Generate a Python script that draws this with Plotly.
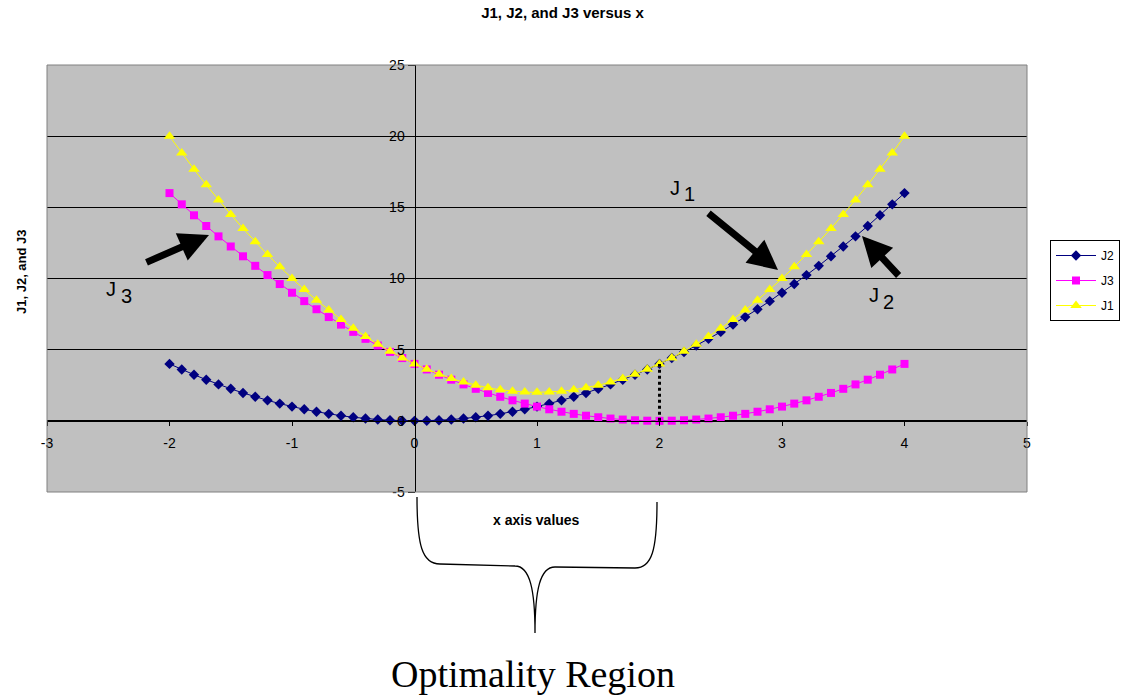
import plotly.graph_objects as go

x_vals = [-2.0, -1.9, -1.8, -1.7, -1.6, -1.5, -1.4, -1.3, -1.2, -1.1,
          -1.0, -0.9, -0.8, -0.7, -0.6, -0.5, -0.4, -0.3, -0.2, -0.1,
          0.0, 0.1, 0.2, 0.3, 0.4, 0.5, 0.6, 0.7, 0.8, 0.9,
          1.0, 1.1, 1.2, 1.3, 1.4, 1.5, 1.6, 1.7, 1.8, 1.9,
          2.0, 2.1, 2.2, 2.3, 2.4, 2.5, 2.6, 2.7, 2.8, 2.9,
          3.0, 3.1, 3.2, 3.3, 3.4, 3.5, 3.6, 3.7, 3.8, 3.9, 4.0]

j2_vals = [4, 3.61, 3.24, 2.89, 2.56, 2.25, 1.96, 1.69, 1.44, 1.21,
           1, 0.81, 0.64, 0.49, 0.36, 0.25, 0.16, 0.09, 0.04, 0.01,
           0, 0.01, 0.04, 0.09, 0.16, 0.25, 0.36, 0.49, 0.64, 0.81,
           1, 1.21, 1.44, 1.69, 1.96, 2.25, 2.56, 2.89, 3.24, 3.61,
           4, 4.41, 4.84, 5.29, 5.76, 6.25, 6.76, 7.29, 7.84, 8.41,
           9, 9.61, 10.24, 10.89, 11.56, 12.25, 12.96, 13.69, 14.44, 15.21, 16]

j3_vals = [16, 15.21, 14.44, 13.69, 12.96, 12.25, 11.56, 10.89, 10.24, 9.61,
           9, 8.41, 7.84, 7.29, 6.76, 6.25, 5.76, 5.29, 4.84, 4.41,
           4, 3.61, 3.24, 2.89, 2.56, 2.25, 1.96, 1.69, 1.44, 1.21,
           1, 0.81, 0.64, 0.49, 0.36, 0.25, 0.16, 0.09, 0.04, 0.01,
           0, 0.01, 0.04, 0.09, 0.16, 0.25, 0.36, 0.49, 0.64, 0.81,
           1, 1.21, 1.44, 1.69, 1.96, 2.25, 2.56, 2.89, 3.24, 3.61, 4]

j1_vals = [20, 18.82, 17.68, 16.58, 15.52, 14.5, 13.52, 12.58, 11.68, 10.82,
           10, 9.22, 8.48, 7.78, 7.12, 6.5, 5.92, 5.38, 4.88, 4.42,
           4, 3.62, 3.28, 2.98, 2.72, 2.5, 2.32, 2.18, 2.08, 2.02,
           2, 2.02, 2.08, 2.18, 2.32, 2.5, 2.72, 2.98, 3.28, 3.62,
           4, 4.42, 4.88, 5.38, 5.92, 6.5, 7.12, 7.78, 8.48, 9.22,
           10, 10.82, 11.68, 12.58, 13.52, 14.5, 15.52, 16.58, 17.68, 18.82, 20]

x_tick_vals = [-3, -2, -1, 0, 1, 2, 3, 4, 5]
x_tick_text = ["-3", "-2", "-1", "0", "1", "2", "3", "4", "5"]
y_tick_vals = [-5, 0, 5, 10, 15, 20, 25]
y_tick_text = ["-5", "0", "5", "10", "15", "20", "25"]

W, H = 1125, 695
ML, MR, MT, MB = 47, 98, 65, 203
PW, PH = W - ML - MR, H - MT - MB
X_RANGE = [-3, 5]
Y_RANGE = [-5, 25]


def px(xp):
    return (xp - ML) / PW


def py(yp):
    return (H - MB - yp) / PH


fig = go.Figure()
fig.add_trace(go.Scatter(x=x_vals, y=j2_vals, name="J2", mode="lines+markers",
                         legendgroup="g2",
                         line=dict(color="#000080", width=1),
                         marker=dict(symbol="diamond", size=8, color="#000080")))
fig.add_trace(go.Scatter(x=x_vals, y=j3_vals, name="J3", mode="lines+markers",
                         legendgroup="g3",
                         line=dict(color="#FF00FF", width=1),
                         marker=dict(symbol="square", size=8, color="#FF00FF")))
fig.add_trace(go.Scatter(x=x_vals, y=j1_vals, name="J1", mode="lines+markers",
                         legendgroup="g1",
                         line=dict(color="#FFFF00", width=1),
                         marker=dict(symbol="triangle-up", size=10, color="#FFFF00")))

x_axis_pos = (0 - Y_RANGE[0]) / (Y_RANGE[1] - Y_RANGE[0])
y_axis_pos = (0 - X_RANGE[0]) / (X_RANGE[1] - X_RANGE[0])

font_tick = dict(family="Liberation Sans, Arial", size=14, color="black")

fig.update_layout(
    width=W, height=H,
    margin=dict(l=ML, r=MR, t=MT, b=MB, pad=0, autoexpand=False),
    paper_bgcolor="white",
    plot_bgcolor="#C0C0C0",
    title=dict(text="<b>J1, J2, and J3 versus x</b>", x=0.5, xref="container",
               xanchor="center", y=1 - 13 / H, yanchor="middle", yref="container",
               font=dict(family="Liberation Sans, Arial", size=15, color="black")),
    xaxis=dict(range=X_RANGE, tickvals=x_tick_vals, ticktext=x_tick_text,
               showgrid=False, zeroline=False,
               anchor="free", position=x_axis_pos, showline=True, linecolor="black",
               linewidth=1, ticks="outside", ticklen=4, tickcolor="black",
               ticklabelstandoff=5, tickfont=font_tick),
    yaxis=dict(range=Y_RANGE, tickvals=y_tick_vals, ticktext=y_tick_text,
               showgrid=True, gridcolor="black",
               gridwidth=1, zeroline=False, anchor="free", position=y_axis_pos,
               showline=True, linecolor="black", linewidth=1, ticks="outside",
               ticklen=7, tickcolor="black", tickfont=font_tick),
    legend=dict(x=px(1050), y=py(240), xanchor="left", yanchor="top",
                bordercolor="black", borderwidth=1, bgcolor="white",
                font=dict(family="Liberation Sans, Arial", size=12, color="black"),
                tracegroupgap=6, itemwidth=40),
    showlegend=True,
)

# plot area border
fig.add_shape(type="rect", xref="paper", yref="paper", x0=0, y0=0, x1=1, y1=1,
              line=dict(color="#808080", width=1), layer="above")

# dotted line at x = 2
fig.add_shape(type="line", xref="x", yref="y", x0=2, x1=2, y0=0, y1=4,
              line=dict(color="black", width=3, dash="dot"), layer="above")

# brace under the optimality region
pts = [(417, 497), (417, 545), (422, 564), (440, 564), (515, 566),
       (530, 566), (535, 590), (535, 633), (535, 590), (540, 567), (555, 567),
       (635, 568), (652, 568), (657, 550), (657, 502)]
P = [f"{px(a):.5f},{py(b):.5f}" for a, b in pts]
path = (f"M {P[0]} C {P[1]} {P[2]} {P[3]} L {P[4]} C {P[5]} {P[6]} {P[7]} "
        f"C {P[8]} {P[9]} {P[10]} L {P[11]} C {P[12]} {P[13]} {P[14]}")
fig.add_shape(type="path", xref="paper", yref="paper", path=path,
              line=dict(color="black", width=1.3))


def label(text, xp, yp, font, angle=0):
    fig.add_annotation(text=text, xref="paper", yref="paper", x=px(xp), y=py(yp),
                       xanchor="center", yanchor="middle", textangle=angle,
                       showarrow=False, font=font)


ann_font = dict(family="Liberation Sans, Arial", size=14, color="black")
label("<b>x axis values</b>", 536, 520, ann_font)
label("<b>J1, J2, and J3</b>", 21, 272, dict(family="Liberation Sans, Arial", size=13,
                                            color="black"), angle=-90)
label("Optimality Region", 533, 674,
      dict(family="Liberation Serif, Times New Roman", size=38, color="black"))

lab_font = dict(family="Liberation Sans, Arial", size=20, color="black")
for main, sub, (a, b), (c, d) in [("J", "1", (675, 188), (689, 194)),
                                  ("J", "2", (874, 295), (888, 302)),
                                  ("J", "3", (111, 289), (126, 296))]:
    label(main, a, b, lab_font)
    label(sub, c, d, lab_font)

for (tx, ty), (hx, hy) in [((707, 212), (778, 270)), ((900, 277), (862, 236)),
                           ((145, 263), (209, 235))]:
    fig.add_annotation(text="", xref="paper", yref="paper", x=px(hx), y=py(hy),
                       ax=tx - hx, ay=ty - hy, axref="pixel", ayref="pixel",
                       showarrow=True, arrowhead=2, arrowwidth=7, arrowsize=0.85,
                       arrowcolor="black", standoff=0)

fig.write_html("out.html")
